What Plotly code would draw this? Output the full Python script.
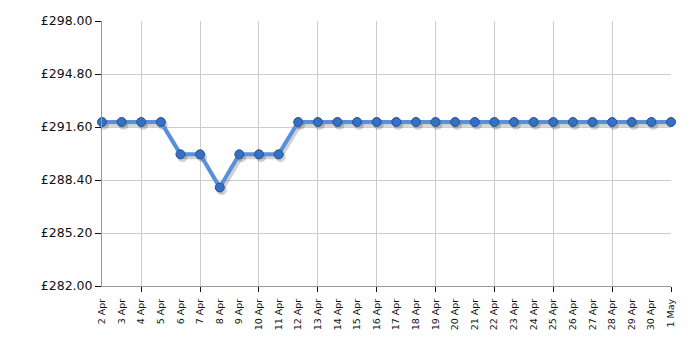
import plotly.graph_objects as go

dates = ["2 Apr", "3 Apr", "4 Apr", "5 Apr", "6 Apr", "7 Apr", "8 Apr", "9 Apr", "10 Apr",
         "11 Apr", "12 Apr", "13 Apr", "14 Apr", "15 Apr", "16 Apr", "17 Apr", "18 Apr",
         "19 Apr", "20 Apr", "21 Apr", "22 Apr", "23 Apr", "24 Apr", "25 Apr", "26 Apr",
         "27 Apr", "28 Apr", "29 Apr", "30 Apr", "1 May"]
prices = [291.90, 291.90, 291.90, 291.90, 289.95, 289.95, 287.95, 289.95, 289.95, 289.95,
          291.90, 291.90, 291.90, 291.90, 291.90, 291.90, 291.90, 291.90, 291.90, 291.90,
          291.90, 291.90, 291.90, 291.90, 291.90, 291.90, 291.90, 291.90, 291.90, 291.90]
y_ticks = [282.00, 285.20, 288.40, 291.60, 294.80, 298.00]
y_labels = ["£%.2f" % v for v in y_ticks]

x = list(range(len(dates)))
grid_x = x[2::3]

fig = go.Figure()
# soft shadow
fig.add_trace(go.Scatter(
    x=[v + 0.1 for v in x], y=[p - 0.17 for p in prices], mode="lines+markers",
    line=dict(color="rgba(0,0,0,0.18)", width=4),
    marker=dict(size=10, color="rgba(0,0,0,0.18)"),
    hoverinfo="skip", cliponaxis=False, showlegend=False))
fig.add_trace(go.Scatter(
    x=x, y=prices, mode="lines+markers",
    line=dict(color="#5a8fdc", width=4),
    marker=dict(size=9, color="#3570c4", line=dict(color="#24528f", width=1)),
    cliponaxis=False, showlegend=False))

fig.update_layout(
    width=700, height=350,
    margin=dict(l=102, r=29, t=21, b=64),
    paper_bgcolor="white", plot_bgcolor="white",
    font=dict(family="DejaVu Sans", color="#111"),
    xaxis=dict(
        range=[0, len(x) - 1], tickmode="array", tickvals=x, ticktext=dates,
        tickangle=-90, tickfont=dict(size=9.5), ticklen=0, showgrid=False,
        ticklabelstandoff=8,
        showline=True, linecolor="#999", linewidth=1, zeroline=False,
        minor=dict(tickmode="array", tickvals=grid_x, ticks="outside", ticklen=5,
                   tickcolor="#111", showgrid=True, gridcolor="#cccccc", gridwidth=1),
    ),
    yaxis=dict(
        range=[282, 298], tickmode="array", tickvals=y_ticks, ticktext=y_labels,
        tickfont=dict(size=12.5), ticks="outside", ticklen=6, tickcolor="#111",
        showgrid=True, gridcolor="#cccccc", gridwidth=1,
        showline=True, linecolor="#999", linewidth=1, zeroline=False,
    ),
)

fig.write_html("out.html")
